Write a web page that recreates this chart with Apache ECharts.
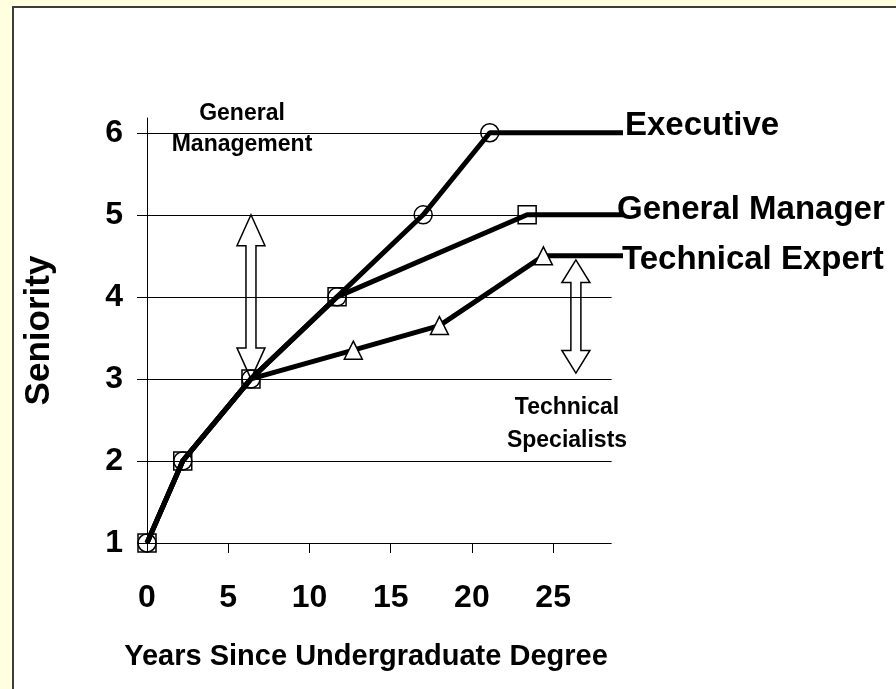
<!DOCTYPE html>
<html>
<head>
<meta charset="utf-8">
<script src="https://cdn.jsdelivr.net/npm/echarts@6/dist/echarts.min.js"></script>
<style>
  html, body { margin: 0; padding: 0; background: #ffffe0; overflow: hidden; }
  #panel { position: absolute; left: 12px; top: 6px; width: 900px; height: 700px; background: #fff;
           border-left: 2px solid #3c3c3c; border-top: 2px solid #3c3c3c; }
  #chart { position: absolute; left: 0; top: 0; width: 896px; height: 689px; }
</style>
</head>
<body>
<div id="panel"></div>
<div id="chart"></div>
<script>
// career paths: years since degree vs seniority
const execX = [0, 2.2, 6.4, 11.7, 17, 21.1, 29.3];
const execY = [1, 2, 3, 4, 5, 6, 6];
const gmX = [0, 2.2, 6.4, 11.7, 23.4, 29.3];
const gmY = [1, 2, 3, 4, 5, 5];
const techX = [0, 2.2, 6.4, 12.7, 18, 24.4, 29.3];
const techY = [1, 2, 3, 3.35, 3.65, 4.5, 4.5];

const xTicks = [0, 5, 10, 15, 20, 25];
const yTicks = [1, 2, 3, 4, 5, 6];
const gridEnd = 28.6; // horizontal gridlines stop here, the paths run on to the labels

// double-headed arrows (x, top, bottom)
const arrowX = [6.4, 26.4];
const arrowTop = [5, 4.45];
const arrowBottom = [3, 3.07];

const FONT = '"Liberation Sans", Arial, sans-serif';

const chart = echarts.init(document.getElementById('chart'));

// first index that gets a marker; the trailing point never does
function points(xs, ys, firstMark) {
  return xs.map((x, i) => {
    const item = { value: [x, ys[i]] };
    if (i < firstMark || i === xs.length - 1) item.symbol = 'none';
    return item;
  });
}

function path(name, xs, ys, symbol, fill, firstMark, labelOffset) {
  return {
    name: name,
    type: 'line',
    data: points(xs, ys, firstMark),
    symbol: symbol,
    symbolSize: 18,
    z: 3,
    lineStyle: { color: '#000', width: 5 },
    itemStyle: { color: fill, borderColor: '#000', borderWidth: 1.5 },
    emphasis: { disabled: true },
    endLabel: {
      show: true,
      formatter: name,
      color: '#000',
      fontFamily: FONT,
      fontSize: 33,
      fontWeight: 'bold',
      distance: 0,
      offset: labelOffset
    }
  };
}

chart.setOption({
  animation: false,
  textStyle: { fontFamily: FONT },
  grid: { left: 147, right: 273, top: 118, bottom: 146, containLabel: false },
  xAxis: {
    type: 'value',
    min: 0,
    max: 29.3,
    name: 'Years Since Undergraduate Degree',
    nameLocation: 'middle',
    nameGap: 99,
    nameTextStyle: { color: '#000', fontSize: 29, fontWeight: 'bold', padding: [0, 38, 0, 0] },
    axisLine: { show: false },
    axisTick: { show: true, length: 10, customValues: xTicks, lineStyle: { color: '#000' } },
    axisLabel: { customValues: xTicks, color: '#000', fontSize: 32, fontWeight: 'bold', margin: 39 },
    splitLine: { show: false }
  },
  yAxis: {
    type: 'value',
    min: 1,
    max: 6.18,
    name: 'Seniority',
    nameLocation: 'middle',
    nameRotate: 90,
    nameGap: 90,
    nameTextStyle: { color: '#000', fontSize: 35, fontWeight: 'bold' },
    axisLine: { show: true, lineStyle: { color: '#000', width: 1 } },
    axisTick: { show: true, length: 10, customValues: yTicks, lineStyle: { color: '#000' } },
    axisLabel: { customValues: yTicks, color: '#000', fontSize: 32, fontWeight: 'bold', margin: 24 },
    splitLine: { show: false }
  },
  graphic: [
    {
      type: 'text', x: 242, y: 98,
      style: { text: 'General\nManagement', fill: '#000', font: 'bold 23px ' + FONT,
               textAlign: 'center', textVerticalAlign: 'top', lineHeight: 31 }
    },
    {
      type: 'text', x: 567, y: 391,
      style: { text: 'Technical\nSpecialists', fill: '#000', font: 'bold 23px ' + FONT,
               textAlign: 'center', textVerticalAlign: 'top', lineHeight: 33 }
    }
  ],
  series: [
    {
      type: 'custom',
      z: 1,
      clip: false,
      data: arrowX.map((x, i) => [x, arrowTop[i], arrowBottom[i]]),
      markLine: {
        silent: true,
        symbol: 'none',
        label: { show: false },
        lineStyle: { color: '#000', width: 1, type: 'solid' },
        emphasis: { disabled: true },
        data: yTicks.map((y) => [{ coord: [0, y] }, { coord: [gridEnd, y] }])
      },
      renderItem: function (params, api) {
        const a = api.coord([api.value(0), api.value(1)]);
        const b = api.coord([api.value(0), api.value(2)]);
        const cx = a[0], y1 = a[1], y2 = b[1];
        const hl = Math.min(31, (y2 - y1) * 0.2);
        const hw = 14, sw = 5;
        return {
          type: 'polygon',
          shape: {
            points: [
              [cx, y1], [cx + hw, y1 + hl], [cx + sw, y1 + hl], [cx + sw, y2 - hl],
              [cx + hw, y2 - hl], [cx, y2], [cx - hw, y2 - hl], [cx - sw, y2 - hl],
              [cx - sw, y1 + hl], [cx - hw, y1 + hl]
            ]
          },
          style: { fill: '#fff', stroke: '#000', lineWidth: 1.5 }
        };
      }
    },
    path('Executive', execX, execY, 'circle', 'rgba(0,0,0,0)', 0, [2, -7]),
    path('General Manager', gmX, gmY, 'rect', 'rgba(0,0,0,0)', 0, [-6, -5]),
    path('Technical Expert', techX, techY, 'triangle', '#fff', 3, [-1, 4])
  ]
});
</script>
</body>
</html>
